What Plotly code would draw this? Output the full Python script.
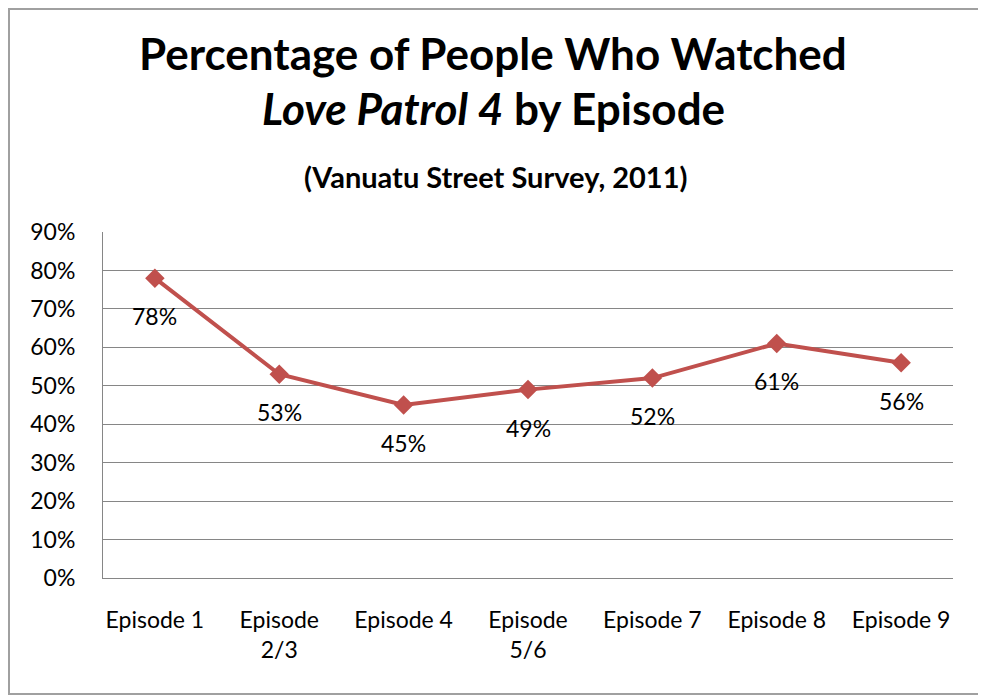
import plotly.graph_objects as go

categories = ["Episode 1", "Episode<br>2/3", "Episode 4", "Episode<br>5/6", "Episode 7", "Episode 8", "Episode 9"]
values = [0.78, 0.53, 0.45, 0.49, 0.52, 0.61, 0.56]
value_labels = ["78%", "53%", "45%", "49%", "52%", "61%", "56%"]
y_ticks = [0, 0.1, 0.2, 0.3, 0.4, 0.5, 0.6, 0.7, 0.8, 0.9]
y_tick_labels = ["0%", "10%", "20%", "30%", "40%", "50%", "60%", "70%", "80%", "90%"]

FONT = "Lato"
OFF = 8  # browser body margin
W, H = 986 - OFF, 696 - OFF
L, R, T, B = 103 - OFF, 953 - OFF, 232 - OFF, 578 - OFF
pw, ph = R - L, B - T

def px_x(p):
    return (p - OFF - L) / pw

def px_y(p):
    return (B - (p - OFF)) / ph

fig = go.Figure()
fig.add_trace(go.Scatter(
    x=categories, y=values, mode="lines+markers",
    line=dict(color="#C0504D", width=4),
    marker=dict(symbol="diamond", size=15, color="#C0504D"),
    hoverinfo="skip",
))

for c, v, t in zip(categories, values, value_labels):
    fig.add_annotation(x=c, y=v, text=t, showarrow=False, yshift=-38,
                       font=dict(family=FONT, size=23, color="#000000"))

fig.add_annotation(xref="paper", yref="paper", x=px_x(493), y=px_y(53),
                   text="<b>Percentage of People Who Watched</b>", showarrow=False,
                   font=dict(family=FONT, size=44, color="#000000"), xanchor="center", yanchor="middle")
fig.add_annotation(xref="paper", yref="paper", x=px_x(493), y=px_y(108),
                   text="<b><i>Love Patrol 4</i> by Episode</b>", showarrow=False,
                   font=dict(family=FONT, size=44, color="#000000"), xanchor="center", yanchor="middle")
fig.add_annotation(xref="paper", yref="paper", x=px_x(495), y=px_y(176),
                   text="<b>(Vanuatu Street Survey, 2011)</b>", showarrow=False,
                   font=dict(family=FONT, size=29, color="#000000"), xanchor="center", yanchor="middle")

fig.add_shape(type="rect", xref="paper", yref="paper",
              x0=px_x(OFF + 1), x1=px_x(982), y0=px_y(694), y1=px_y(OFF + 1),
              line=dict(color="#A0A0A0", width=2), layer="below")

fig.update_layout(
    width=W, height=H,
    margin=dict(l=L, r=W - R, t=T, b=H - B),
    paper_bgcolor="white", plot_bgcolor="white",
    showlegend=False,
    xaxis=dict(type="category", showgrid=False, showline=True, linecolor="#868686", linewidth=1,
               ticks="", tickfont=dict(family=FONT, size=23, color="#000000"),
               ticklabelstandoff=21, fixedrange=True),
    yaxis=dict(range=[0, 0.9], tickvals=y_ticks, ticktext=y_tick_labels,
               showgrid=True, gridcolor="#868686", gridwidth=1,
               showline=True, linecolor="#868686", linewidth=1, zeroline=False,
               ticks="", tickfont=dict(family=FONT, size=23, color="#000000"),
               ticklabelstandoff=22, fixedrange=True),
)

fig.write_html("out.html")
